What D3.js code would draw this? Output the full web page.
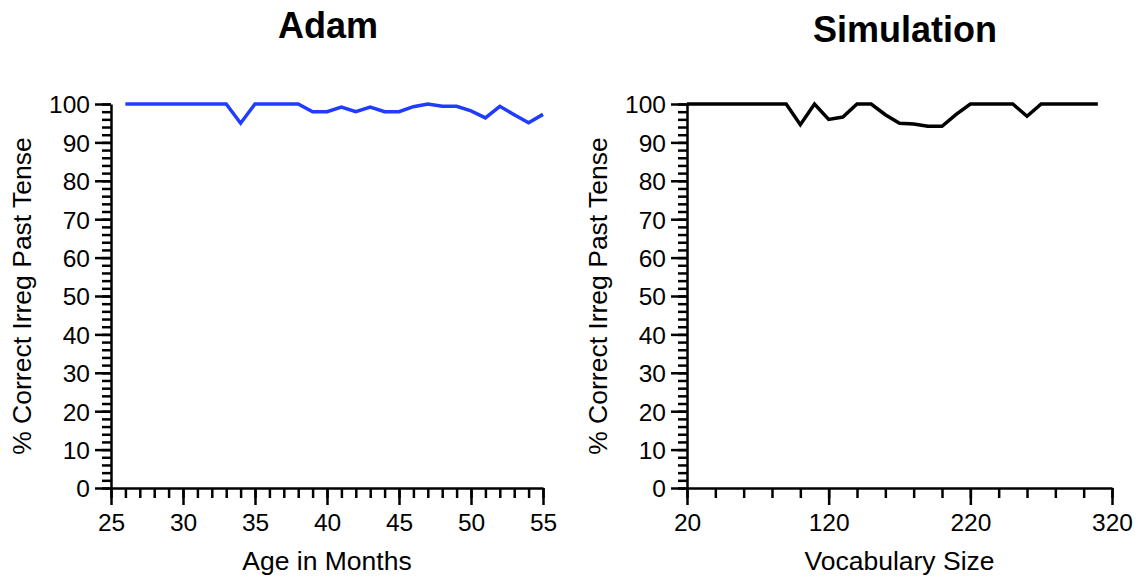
<!DOCTYPE html>
<html>
<head>
<meta charset="utf-8">
<script src="https://cdn.jsdelivr.net/npm/d3@7/dist/d3.min.js"></script>
<style>
  body { margin: 0; background: #fff; }
  svg { display: block; font-family: "Liberation Sans", Arial, Helvetica, sans-serif; }
  .axis path, .axis line { stroke: #000; stroke-width: 2.5px; }
  .axis text { font-size: 24.5px; fill: #000; }
</style>
</head>
<body>
<div id="chart"></div>
<script>
/////////////////////////////////////////////////////////////////////
/////////////////////////data//////////////////////////////////////
////////////////////////////////////////////////////////////////////
var adamMonths = [26, 27, 28, 29, 30, 31, 32, 33, 34, 35, 36, 37, 38, 39, 40,
                  41, 42, 43, 44, 45, 46, 47, 48, 49, 50, 51, 52, 53, 54, 55];
var adamPct = [100, 100, 100, 100, 100, 100, 100, 100, 95, 100, 100, 100, 100, 98, 98,
               99.2, 98, 99.2, 98, 98, 99.3, 100, 99.4, 99.4, 98.2, 96.4, 99.4, 97.2, 95.1, 97.3];

var simVocab = [20, 30, 40, 50, 60, 70, 80, 90, 100, 110, 120, 130, 140, 150, 160,
                170, 180, 190, 200, 210, 220, 230, 240, 250, 260, 270, 280, 290, 300, 310];
var simPct = [100, 100, 100, 100, 100, 100, 100, 100, 94.6, 100, 96, 96.6, 100, 100, 97.2,
              95, 94.8, 94.2, 94.2, 97.3, 100, 100, 100, 100, 96.8, 100, 100, 100, 100, 100];

var adamTicks = [25, 30, 35, 40, 45, 50, 55];
var simTicks = [20, 120, 220, 320];
var yTicks = [0, 10, 20, 30, 40, 50, 60, 70, 80, 90, 100];

/////////////////////////////////////////////////////////////////////
/////////////////////////global variables/////////////////////////////
////////////////////////////////////////////////////////////////////
var wdim = 1137, hdim = 579;
var top_y = 104, bottom_y = 488;
var canvas;

function build_canvas(){
	var svg = d3.select("#chart")
		.append("svg")
		.attr("width", wdim)
		.attr("height", hdim);
	return svg;
}

/////////////////////////////////////////////////////////////////
/////////////////////one panel: axes + line//////////////////////
///////////////////////////////////////////////////////////////
function draw_panel(p){
	var x = d3.scaleLinear().domain(p.xDomain).range([p.left, p.right]);
	var y = d3.scaleLinear().domain([0, 100]).range([bottom_y, top_y]);

	// minor ticks first
	canvas.append("g")
		.attr("class", "axis")
		.attr("transform", "translate(" + p.left + ",0)")
		.call(d3.axisLeft(y).tickValues(d3.range(0, 101, 2)).tickSize(9).tickSizeOuter(0).tickFormat(""))
		.select(".domain").remove();

	canvas.append("g")
		.attr("class", "axis")
		.attr("transform", "translate(0," + bottom_y + ")")
		.call(d3.axisBottom(x).tickValues(d3.range(p.xDomain[0], p.xDomain[1] + 1, p.minorStep)).tickSize(10).tickSizeOuter(0).tickFormat(""))
		.select(".domain").remove();

	// major axes
	canvas.append("g")
		.attr("class", "axis")
		.attr("transform", "translate(" + p.left + ",0)")
		.call(d3.axisLeft(y).tickValues(yTicks).tickSize(16).tickSizeOuter(0).tickPadding(5))
		.selectAll("text").attr("dy", "0.36em");

	canvas.append("g")
		.attr("class", "axis")
		.attr("transform", "translate(0," + bottom_y + ")")
		.call(d3.axisBottom(x).tickValues(p.ticks).tickSize(17).tickSizeOuter(0).tickPadding(9))
		.selectAll("text").attr("dy", "0.71em");

	// the series
	var line = d3.line()
		.x(function(d){ return x(d[0]); })
		.y(function(d){ return y(d[1]); });

	canvas.append("path")
		.datum(d3.zip(p.xs, p.ys))
		.attr("fill", "none")
		.attr("stroke", p.color)
		.attr("stroke-width", 3.5)
		.attr("stroke-linejoin", "miter")
		.attr("d", line);

	// titles
	canvas.append("text")
		.attr("x", p.titleX)
		.attr("y", p.titleY)
		.attr("text-anchor", "middle")
		.attr("font-size", "36px")
		.attr("font-weight", "bold")
		.text(p.title);

	canvas.append("text")
		.attr("x", (p.left + p.right) / 2)
		.attr("y", 570)
		.attr("text-anchor", "middle")
		.attr("font-size", "26.5px")
		.text(p.xLabel);

	canvas.append("text")
		.attr("transform", "translate(" + p.yLabelX + "," + ((top_y + bottom_y) / 2) + ") rotate(-90)")
		.attr("text-anchor", "middle")
		.attr("font-size", "26.5px")
		.text("% Correct Irreg Past Tense");
}

////////////////////////////////////////////////////////////////////
/////////////////////// MAIN //////////////////////////////////////
//////////////////////////////////////////////////////////////////
function main(){
	canvas = build_canvas();

	draw_panel({
		xDomain: [25, 55], left: 111, right: 543, ticks: adamTicks, minorStep: 1,
		xs: adamMonths, ys: adamPct, color: "#1f3cff",
		title: "Adam", titleX: 328, titleY: 38,
		xLabel: "Age in Months", yLabelX: 31
	});

	draw_panel({
		xDomain: [20, 320], left: 687, right: 1112, ticks: simTicks, minorStep: 20,
		xs: simVocab, ys: simPct, color: "#000",
		title: "Simulation", titleX: 905, titleY: 42,
		xLabel: "Vocabulary Size", yLabelX: 607
	});
}

main();
</script>
</body>
</html>
